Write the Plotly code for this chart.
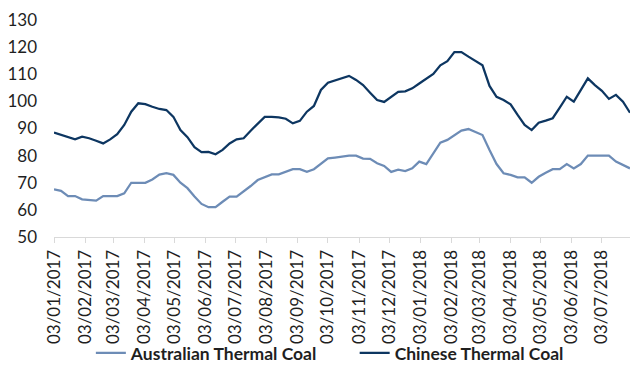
import pandas as pd
import plotly.graph_objects as go

# Weekly observations, first Tuesday of 2017 through end of July 2018
start_date = "2017-01-03"
n_weeks = 83

australian = [
    67.6, 67.0, 65.1, 65.1, 63.9, 63.6, 63.4, 65.1, 65.1, 65.1,
    66.1, 70.0, 70.0, 70.0, 71.2, 73.0, 73.5, 72.9, 70.0, 68.0,
    64.9, 62.2, 61.0, 61.0, 63.0, 64.9, 64.9, 66.7, 68.8, 71.0,
    72.0, 73.1, 73.1, 74.1, 75.0, 75.0, 74.0, 75.0, 76.9, 79.0,
    79.3, 79.6, 80.0, 80.0, 78.9, 78.8, 77.2, 76.2, 74.0, 74.8,
    74.3, 75.3, 77.8, 76.9, 80.9, 84.8, 85.8, 87.6, 89.2, 89.8,
    88.8, 87.6, 82.1, 76.9, 73.5, 72.9, 72.0, 72.0, 70.0, 72.2,
    73.7, 75.0, 75.0, 76.9, 75.3, 76.9, 80.0, 80.0, 80.0, 80.0,
    77.8, 76.5, 75.3,
]

chinese = [
    88.5, 87.6, 86.8, 86.0, 87.0, 86.4, 85.5, 84.5, 86.0, 87.9,
    91.3, 96.2, 99.3, 99.0, 98.0, 97.2, 96.8, 94.3, 89.4, 86.8,
    83.1, 81.3, 81.4, 80.5, 82.1, 84.5, 86.0, 86.4, 89.2, 91.9,
    94.3, 94.3, 94.1, 93.6, 91.9, 92.8, 96.2, 98.3, 104.2, 106.9,
    107.7, 108.4, 109.4, 107.9, 106.0, 103.2, 100.5, 99.8, 101.7, 103.5,
    103.7, 104.8, 106.6, 108.2, 110.1, 113.3, 114.8, 118.2, 118.2, 116.5,
    114.9, 113.3, 105.7, 101.7, 100.5, 98.9, 95.0, 91.3, 89.4, 92.1,
    92.9, 93.8, 97.7, 101.7, 99.9, 104.2, 108.5, 106.0, 103.9, 100.9,
    102.4, 99.9, 95.8,
]

series_names = ["Australian Thermal Coal", "Chinese Thermal Coal"]
series_colors = ["#6d8cb6", "#0d3661"]

dates = pd.date_range(start_date, periods=n_weeks, freq="7D")
# Monthly ticks on the 3rd of each month
tick_dates = pd.date_range("2017-01-01", "2018-07-01", freq="MS") + pd.Timedelta(days=2)

font_family = "Lato, 'Open Sans', sans-serif"
text_color = "#1f1f1f"

fig = go.Figure()
for name, values, color, legend_id in zip(
    series_names, [australian, chinese], series_colors, ["legend", "legend2"]
):
    fig.add_trace(go.Scatter(
        x=dates, y=values, mode="lines", name=name, legend=legend_id,
        line=dict(color=color, width=2.25),
    ))

legend_style = dict(
    orientation="h", yanchor="bottom", y=-0.618, xanchor="left",
    font=dict(family=font_family, size=17.5, color=text_color, weight="bold"),
    itemwidth=30, bgcolor="rgba(0,0,0,0)", borderwidth=0,
)

fig.update_layout(
    width=630, height=372,
    margin=dict(l=54, r=0, t=20, b=135, autoexpand=False),
    paper_bgcolor="white", plot_bgcolor="white",
    font=dict(family=font_family, color=text_color, size=16),
    showlegend=True,
    legend=dict(x=0.064, **legend_style),
    legend2=dict(x=0.522, **legend_style),
)

fig.update_xaxes(
    type="date",
    range=[dates[0], dates[-1]],
    tickmode="array", tickvals=tick_dates,
    ticktext=[d.strftime("%d/%m/%Y") for d in tick_dates],
    tickangle=-90,
    tickfont=dict(family=font_family, size=17, color=text_color),
    showgrid=False, zeroline=False,
    showline=True, linecolor="#d9d9d9", linewidth=1,
    ticks="outside", ticklen=5, tickcolor="#d9d9d9", tickwidth=1,
    automargin=False,
)

fig.update_yaxes(
    range=[50, 130], dtick=10, tick0=50,
    tickfont=dict(family=font_family, size=17, color=text_color),
    showgrid=False, zeroline=False, showline=False,
    ticks="", ticklabelstandoff=16,
    automargin=False,
)

fig.write_html("out.html")
